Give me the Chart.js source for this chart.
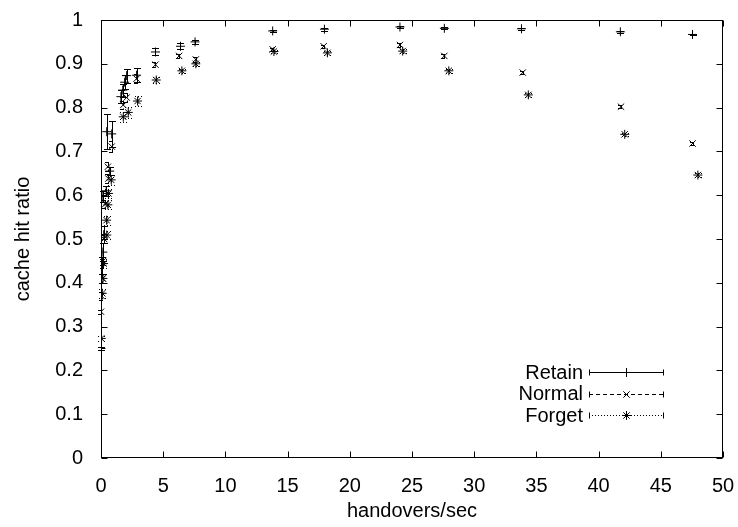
<!DOCTYPE html>
<html><head><meta charset="utf-8">
<script src="https://cdn.jsdelivr.net/npm/chart.js@4/dist/chart.umd.min.js"></script>
<style>html,body{margin:0;padding:0;background:#fff}</style>
</head><body>
<canvas id="c" width="738" height="527"></canvas>
<script>
// ---- data ----
const seriesNames = ['Retain', 'Normal', 'Forget'];

const retainX   = [0.0, 0.08, 0.15, 0.22, 0.15, 0.42, 0.7, 0.46, 0.86, 1.6, 1.75, 1.9, 2.06, 2.86, 4.38, 6.39, 7.56, 13.8, 17.96, 24.03, 27.6, 33.8, 41.75, 47.55];
const retainY   = [0.25, 0.44, 0.47, 0.51, 0.597, 0.61, 0.655, 0.745, 0.74, 0.825, 0.84, 0.858, 0.873, 0.874, 0.927, 0.94, 0.95, 0.975, 0.979, 0.984, 0.981, 0.98, 0.973, 0.967];
const retainErr = [0.004, 0.02, 0.02, 0.02, 0.012, 0.012, 0.01, 0.04, 0.03, 0.015, 0.015, 0.016, 0.016, 0.016, 0.008, 0.007, 0.005, 0.003, 0.003, 0.002, 0.002, 0.002, 0.002, 0.002];

const normalX   = [0.0, 0.05, 0.12, 0.18, 0.25, 0.35, 0.59, 0.55, 0.86, 1.79, 2.06, 2.86, 4.38, 6.28, 7.62, 13.8, 17.9, 24.03, 27.6, 33.9, 41.8, 47.55];
const normalY   = [0.334, 0.37, 0.41, 0.45, 0.5, 0.58, 0.638, 0.665, 0.711, 0.806, 0.823, 0.866, 0.898, 0.918, 0.91, 0.933, 0.94, 0.943, 0.918, 0.88, 0.802, 0.718];
const normalErr = [0.005, 0.01, 0.01, 0.01, 0.01, 0.01, 0.01, 0.01, 0.012, 0.01, 0.01, 0.01, 0.006, 0.005, 0.005, 0.004, 0.004, 0.004, 0.004, 0.004, 0.004, 0.004];

const forgetX   = [0.02, 0.1, 0.15, 0.2, 0.46, 0.45, 0.55, 0.6, 0.82, 1.79, 2.19, 2.94, 4.44, 6.5, 7.62, 13.9, 18.2, 24.25, 27.96, 34.35, 42.1, 47.98];
const forgetY   = [0.273, 0.376, 0.41, 0.444, 0.509, 0.543, 0.578, 0.604, 0.635, 0.779, 0.789, 0.815, 0.863, 0.884, 0.9, 0.928, 0.925, 0.929, 0.884, 0.829, 0.739, 0.646];
const forgetErr = [0.005, 0.01, 0.01, 0.01, 0.01, 0.01, 0.01, 0.01, 0.012, 0.012, 0.012, 0.012, 0.006, 0.005, 0.005, 0.004, 0.004, 0.004, 0.004, 0.004, 0.004, 0.004];

const xTicks = [0, 5, 10, 15, 20, 25, 30, 35, 40, 45, 50];
const yTicks = [0, 0.1, 0.2, 0.3, 0.4, 0.5, 0.6, 0.7, 0.8, 0.9, 1];
const xTitle = 'handovers/sec';
const yTitle = 'cache hit ratio';

// ---- build ----
const FONT = 'Liberation Sans, Arial, Helvetica, sans-serif';
const FS = 20;
const dashes = [[], [4, 3], [1, 2]];
const styles = ['cross', 'crossRot', 'star'];
function pts(xs, ys, es) { return xs.map((x, i) => ({x: x, y: ys[i], e: es[i]})); }
const allData = [pts(retainX, retainY, retainErr), pts(normalX, normalY, normalErr), pts(forgetX, forgetY, forgetErr)];

const datasets = seriesNames.map((n, i) => ({
  label: n,
  data: allData[i],
  showLine: false,
  pointStyle: styles[i],
  pointRadius: 4.5,
  pointBorderWidth: 1,
  borderColor: '#000',
  backgroundColor: '#000',
  errDash: dashes[i]
}));

const errorBars = {
  id: 'errorBars',
  afterDatasetsDraw(chart) {
    const {ctx, scales: {x, y}} = chart;
    ctx.save();
    ctx.strokeStyle = '#000';
    ctx.lineWidth = 1;
    chart.data.datasets.forEach(ds => {
      ctx.setLineDash(ds.errDash);
      ds.data.forEach(p => {
        const px = Math.round(x.getPixelForValue(p.x)) + 0.5;
        const y1 = Math.round(y.getPixelForValue(p.y + p.e)) + 0.5;
        const y2 = Math.round(y.getPixelForValue(p.y - p.e)) + 0.5;
        ctx.beginPath();
        ctx.moveTo(px, y1); ctx.lineTo(px, y2);
        ctx.moveTo(px - 3.5, y1); ctx.lineTo(px + 3.5, y1);
        ctx.moveTo(px - 3.5, y2); ctx.lineTo(px + 3.5, y2);
        ctx.stroke();
      });
    });
    ctx.restore();
  }
};

const frame = {
  id: 'frame',
  afterDraw(chart) {
    const {ctx, chartArea: a, scales: {x, y}} = chart;
    ctx.save();
    ctx.strokeStyle = '#000';
    ctx.lineWidth = 1;
    ctx.setLineDash([]);
    const L = Math.round(a.left) + 0.5, R = Math.round(a.right) - 0.5;
    const T = Math.round(a.top) + 0.5, B = Math.round(a.bottom) - 0.5;
    ctx.strokeRect(L, T, R - L, B - T);
    ctx.beginPath();
    xTicks.forEach(v => {
      const px = Math.round(x.getPixelForValue(v)) + 0.5;
      ctx.moveTo(px, B); ctx.lineTo(px, B - 6);
      ctx.moveTo(px, T); ctx.lineTo(px, T + 6);
    });
    yTicks.forEach(v => {
      const py = Math.round(y.getPixelForValue(v)) + 0.5;
      ctx.moveTo(L, py); ctx.lineTo(L + 6, py);
      ctx.moveTo(R, py); ctx.lineTo(R - 6, py);
    });
    ctx.stroke();

    // gnuplot-style key, bottom right inside the plot
    ctx.font = FS + 'px ' + FONT;
    ctx.fillStyle = '#000';
    ctx.textAlign = 'right';
    ctx.textBaseline = 'middle';
    const textR = a.right - 140, x0 = a.right - 134, x1 = a.right - 60, xm = (x0 + x1) / 2;
    const rowY = [a.bottom - 86, a.bottom - 64.5, a.bottom - 43];
    chart.data.datasets.forEach((ds, i) => {
      const yy = Math.round(rowY[i]) + 0.5;
      ctx.fillText(ds.label, textR, rowY[i] + 1);
      ctx.setLineDash(ds.errDash);
      ctx.beginPath();
      ctx.moveTo(x0, yy); ctx.lineTo(x1, yy);
      ctx.stroke();
      ctx.setLineDash([]);
      ctx.beginPath();
      ctx.moveTo(Math.round(x0) + 0.5, yy - 3); ctx.lineTo(Math.round(x0) + 0.5, yy + 3);
      ctx.moveTo(Math.round(x1) + 0.5, yy - 3); ctx.lineTo(Math.round(x1) + 0.5, yy + 3);
      ctx.stroke();
      Chart.helpers.drawPoint(ctx, {pointStyle: ds.pointStyle, radius: 4.5, borderWidth: 1, rotation: 0}, Math.round(xm) + 0.5, yy);
    });
    ctx.restore();
  }
};

new Chart(document.getElementById('c'), {
  type: 'scatter',
  data: {datasets},
  plugins: [errorBars, frame],
  options: {
    responsive: false,
    animation: false,
    devicePixelRatio: 1,
    layout: {padding: {left: 0, right: 15, top: 20, bottom: 0}},
    plugins: {legend: {display: false}, tooltip: {enabled: false}},
    scales: {
      x: {
        type: 'linear', min: 0, max: 50,
        afterBuildTicks: s => { s.ticks = xTicks.map(v => ({value: v})); },
        afterFit: s => { s.height = 69; s.paddingLeft = 0; s.paddingRight = 0; },
        grid: {display: false, drawTicks: false},
        border: {display: false},
        ticks: {color: '#000', font: {family: FONT, size: FS}, padding: 16, maxRotation: 0,
                callback: v => String(v)},
        title: {display: true, text: xTitle, color: '#000', font: {family: FONT, size: FS}, padding: {top: 0, bottom: 4}}
      },
      y: {
        type: 'linear', min: 0, max: 1,
        afterBuildTicks: s => { s.ticks = yTicks.map(v => ({value: v})); },
        afterFit: s => { s.width = 101; s.paddingTop = 0; s.paddingBottom = 0; },
        grid: {display: false, drawTicks: false},
        border: {display: false},
        ticks: {color: '#000', font: {family: FONT, size: FS}, padding: 18,
                callback: v => String(Math.round(v * 10) / 10)},
        title: {display: true, text: yTitle, color: '#000', font: {family: FONT, size: FS}, padding: {top: 11, bottom: 0}}
      }
    }
  }
});
</script>
</body></html>
